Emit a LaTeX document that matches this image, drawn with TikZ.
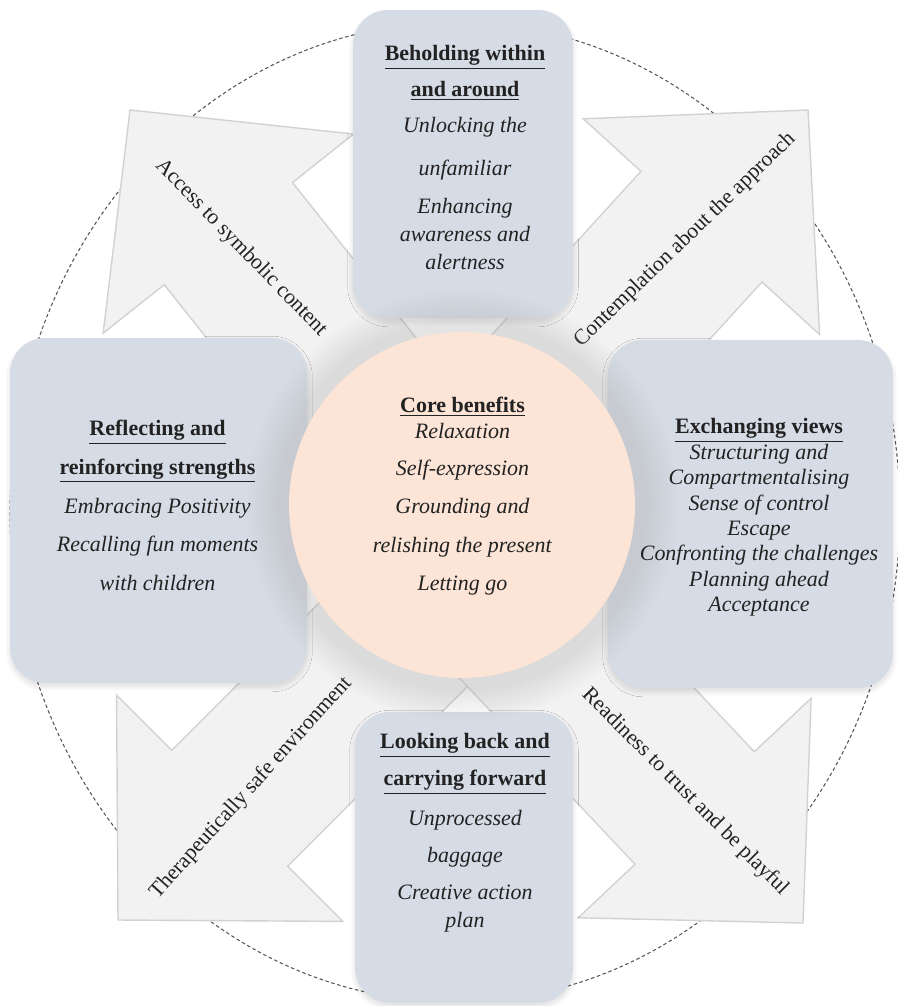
\documentclass[tikz,border=0pt]{standalone}
\usepackage{fontspec}
\setmainfont{Liberation Serif}
\usepackage{xcolor}
\definecolor{panelblue}{HTML}{D6DCE5}
\definecolor{corepeach}{HTML}{FCE4D6}
\definecolor{arrowgrey}{HTML}{F2F2F2}
\definecolor{arrowline}{HTML}{D2D2D2}
\definecolor{ringgrey}{HTML}{555555}
\definecolor{inkgrey}{HTML}{222222}
\usepackage{tikz}
\usetikzlibrary{shadows, shadows.blur}

% block arrow: tip point, direction angle
\newcommand{\benefitarrow}[2]{%
  \draw[flowarrow, shift={#1}, rotate=#2]
    (0,0) -- (-158,160) -- (-158,82) -- (-430,82) -- (-430,-82)
    -- (-158,-82) -- (-158,-160) -- cycle;}

\begin{document}
\begin{tikzpicture}[x=0.02cm, y=-0.02cm,
    panel/.style={fill=panelblue, rounded corners=20pt, inner sep=0pt,
      blur shadow={shadow blur radius=3pt, shadow blur steps=20,
        shadow xshift=0pt, shadow yshift=-2pt, shadow opacity=14}},
    core/.style={circle, fill=corepeach, inner sep=0pt,
      circular glow={fill=black!35, opacity=0.3}},
    paneltext/.style={align=center, text=inkgrey,
      font=\fontsize{12.5}{14.5}\selectfont},
    flowarrow/.style={fill=arrowgrey, draw=arrowline, line width=0.8pt},
    flowlabel/.style={text=inkgrey, font=\fontsize{12.3}{14}\selectfont}
]
  \useasboundingbox (0,0) rectangle (897,1006);

  % dashed outer ring
  \draw[ringgrey, line width=0.6pt, dash pattern=on 2pt off 1.5pt]
    (455,512) ellipse (8.9cm and 9.8cm);

  % the four block arrows
  \benefitarrow{(130,110)}{128.5}
  \benefitarrow{(808,110)}{47.6}
  \benefitarrow{(118,920)}{225}
  \benefitarrow{(803,923)}{313.3}

  % labels along the arrows
  \node[flowlabel, rotate=-46] (symbolic) at (241,248) {Access to symbolic content};
  \node[flowlabel, rotate=44] (approach) at (685,240) {Contemplation about the approach};
  \node[flowlabel, rotate=48] (safe) at (251,788) {Therapeutically safe environment};
  \node[flowlabel, rotate=-45] (trust) at (685,792) {Readiness to trust and be playful};

  % four panels
  \node[panel, minimum width=4.4cm, minimum height=6.16cm] (behold) at (463,164) {};
  \node[panel, minimum width=5.94cm, minimum height=6.9cm] (reflect) at (158.5,510.5) {};
  \node[panel, minimum width=5.7cm, minimum height=6.96cm] (exchange) at (750.5,514) {};
  \node[panel, minimum width=4.36cm, minimum height=5.82cm] (looking) at (464,857.5) {};

  % centre circle
  \node[core, minimum size=6.92cm] (core) at (462,505) {};

  % panel texts
  \node[paneltext] (beholdtext) at (465,157.5) {%
    \underline{\textbf{Beholding within}}\\[6pt]
    \underline{\textbf{and around}}\\[5.5pt]
    \textit{Unlocking the}\\[10pt]
    \textit{unfamiliar}\\[7.5pt]
    \textit{Enhancing}\\[1.5pt]
    \textit{awareness and}\\[1pt]
    \textit{alertness}};

  \node[paneltext] (reflecttext) at (157.5,505.5) {%
    \underline{\textbf{Reflecting and}}\\[7.5pt]
    \underline{\textbf{reinforcing strengths}}\\[7.5pt]
    \textit{Embracing Positivity}\\[7.5pt]
    \textit{Recalling fun moments}\\[7.5pt]
    \textit{with children}};

  \node[paneltext] (exchangetext) at (759,517.5) {%
    \underline{\textbf{Exchanging views}}\\
    \textit{Structuring and}\\
    \textit{Compartmentalising}\\
    \textit{Sense of control}\\
    \textit{Escape}\\
    \textit{Confronting the challenges}\\
    \textit{Planning ahead}\\
    \textit{Acceptance}};

  \node[paneltext] (lookingtext) at (465,833) {%
    \underline{\textbf{Looking back and}}\\[6.5pt]
    \underline{\textbf{carrying forward}}\\[8pt]
    \textit{Unprocessed}\\[6.5pt]
    \textit{baggage}\\[7pt]
    \textit{Creative action}\\[1.5pt]
    \textit{plan}};

  \node[paneltext] (coretext) at (462.5,496) {%
    \underline{\textbf{Core benefits}}\\
    \textit{Relaxation}\\[7pt]
    \textit{Self-expression}\\[7pt]
    \textit{Grounding and}\\[7.5pt]
    \textit{relishing the present}\\[7pt]
    \textit{Letting go}};

\end{tikzpicture}
\end{document}
